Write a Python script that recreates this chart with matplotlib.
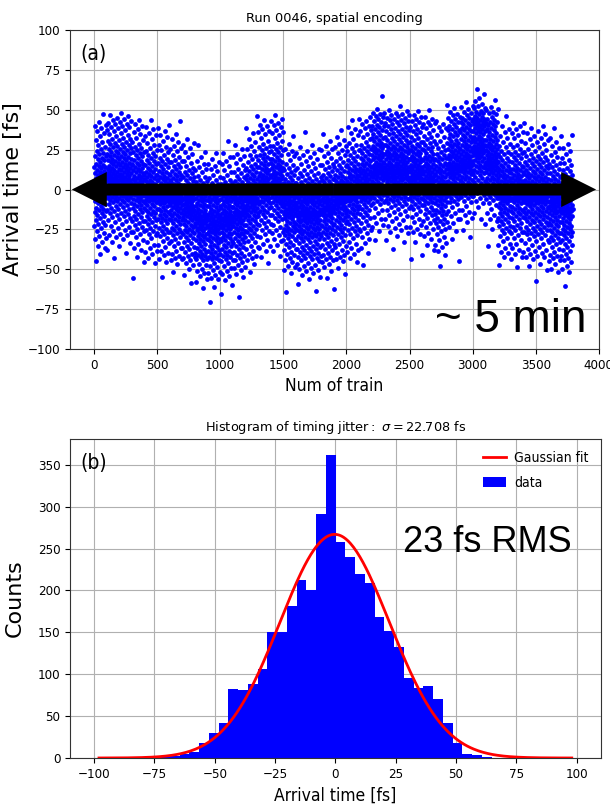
import numpy as np
import matplotlib
matplotlib.use("Agg")
import matplotlib.pyplot as plt
from matplotlib.patches import FancyArrow

# Histogram of arrival times (fs), 4.04 fs wide bins
bin_start = -72.6
bin_width = 4.04
counts = [1, 2, 5, 7, 18, 30, 42, 82, 81, 88, 106, 150, 151, 181, 212, 200,
          291, 362, 258, 240, 220, 209, 168, 152, 133, 95, 83, 86, 70, 42,
          18, 5, 3, 1]

# slow drift of the arrival time, mean per block of 100 trains (fs)
drift = [0, 5, 5, 0, -3, -5, -8, -12, -18, -20, -18, -15, -8, 0, 2, -12,
         -15, -15, -12, -8, -3, 2, 12, 10, 10, 8, 5, 0, 12, 15, 22, 15,
         -3, -2, -5, -5, -10, -12]

# Gaussian fit result
fit_sigma = 22.708
fit_amp = 267.0
fit_mu = -0.3

small = {"family": "DejaVu Sans", "stretch": "condensed"}

# ---- arrival time per train -------------------------------------------
edges = bin_start + bin_width * np.arange(len(counts) + 1)
pool = np.concatenate([edges[k] + (np.arange(c) + 0.5) / c * bin_width
                       for k, c in enumerate(counts)])
n_train = len(pool)
train = np.arange(n_train)

cdf = np.concatenate([[0.0], np.cumsum(counts) / n_train])
u = (0.5 + train * 0.6180339887) % 1.0
spread = np.interp(u, cdf, edges)
z = np.array(drift)[train // 100] + 0.8 * (spread - np.median(pool))
arrival = np.empty(n_train)
arrival[np.argsort(z, kind="stable")] = np.sort(pool)

# ---- figure -------------------------------------------------------------
fig = plt.figure(figsize=(6.1, 8.1), dpi=100)
ax1 = fig.add_axes([0.1148, 0.569, 0.867, 0.394])
ax2 = fig.add_axes([0.1148, 0.0642, 0.870, 0.394])

# (a) arrival time vs train number
ax1.scatter(train, arrival, s=12, color="blue", linewidths=0, zorder=2)
ax1.set_xlim(-190, 4000)
ax1.set_ylim(-100, 100)
ax1.set_xticks(np.arange(0, 4001, 500))
ax1.set_yticks(np.arange(-100, 101, 25))
ax1.grid(True, color="#b0b0b0", lw=0.8)
ax1.set_axisbelow(True)
ax1.set_title("Run 0046, spatial encoding", fontsize=9.3, pad=6)
ax1.set_xlabel("Num of train", fontsize=12.5, fontstretch="condensed")
ax1.set_ylabel("Arrival time [fs]", fontsize=16)
ax1.yaxis.set_label_coords(-0.088, 0.5)
ax1.text(0.02, 0.955, "(a)", transform=ax1.transAxes, fontsize=15,
         fontstretch="condensed", ha="left", va="top")

# double arrow spanning the whole run
mid = 1901
for dx in (2077, -2077):
    ax1.add_patch(FancyArrow(mid, 0, dx, 0, width=7.5, head_width=22,
                             head_length=277, length_includes_head=True,
                             color="black", lw=0, zorder=5, clip_on=False))
ax1.text(0.69, 0.053, "~ 5 min", transform=ax1.transAxes,
         family="Liberation Sans", fontsize=33, ha="left", va="baseline",
         zorder=6)

# (b) histogram with Gaussian fit
_, _, patches = ax2.hist(arrival, bins=edges, color="blue", zorder=2)
xf = np.linspace(-98, 98, 300)
line, = ax2.plot(xf, fit_amp * np.exp(-(xf - fit_mu) ** 2 / (2 * fit_sigma ** 2)),
                 color="red", lw=2, zorder=3)
ax2.set_xlim(-110, 110)
ax2.set_ylim(0, 381)
ax2.set_xticks(np.arange(-100, 101, 25))
ax2.set_yticks(np.arange(0, 351, 50))
ax2.grid(True, color="#b0b0b0", lw=0.8)
ax2.set_axisbelow(True)
ax2.set_title(r"Histogram of timing jitter$:\ \sigma = $" + f"{fit_sigma:.3f} fs",
              fontsize=9.3, pad=6)
ax2.set_xlabel("Arrival time [fs]", fontsize=12.5, fontstretch="condensed")
ax2.set_ylabel("Counts", fontsize=16)
ax2.yaxis.set_label_coords(-0.085, 0.5)
ax2.text(0.02, 0.956, "(b)", transform=ax2.transAxes, fontsize=15,
         fontstretch="condensed", ha="left", va="top")
ax2.legend([line, patches[0]], ["Gaussian fit", "data"], loc="upper right",
           frameon=False, prop={**small, "size": 10},
           handlelength=1.6, handletextpad=0.6, borderaxespad=0.5,
           labelspacing=0.75)
ax2.text(0.627, 0.647, "23 fs RMS", transform=ax2.transAxes,
         family="Liberation Sans", fontsize=26, ha="left", va="baseline")

for ax in (ax1, ax2):
    for lbl in ax.get_xticklabels() + ax.get_yticklabels():
        lbl.set_family(small["family"])
        lbl.set_stretch(small["stretch"])
        lbl.set_fontsize(9.5)
    for sp in ax.spines.values():
        sp.set_color("#333333")

fig.savefig("out.png", dpi=100)
